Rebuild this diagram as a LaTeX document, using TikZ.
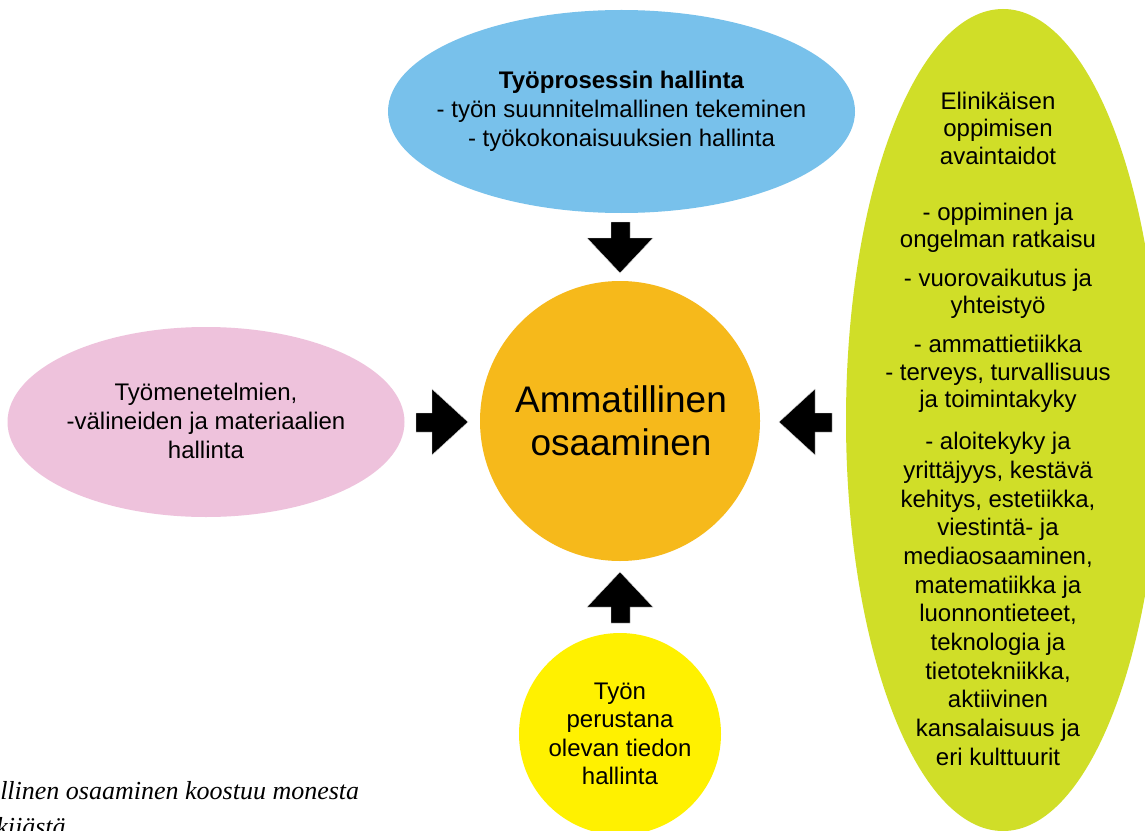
\documentclass[tikz,border=0pt]{standalone}
\usepackage{fontspec}
\newfontfamily\arial{Liberation Sans}
\newfontfamily\capfont{Liberation Serif}
\usetikzlibrary{shapes.geometric}
\definecolor{cblue}{HTML}{78C1EB}
\definecolor{cpink}{HTML}{EEC2DC}
\definecolor{corange}{HTML}{F6B91B}
\definecolor{cyellow}{HTML}{FFF100}
\definecolor{cgreen}{HTML}{D0DE28}
\tikzset{
  blob/.style={shape=ellipse, inner sep=0pt, outer sep=0pt},
  label text/.style={align=center, inner sep=0pt, text=black},
  bodytext/.style={label text, font=\arial\fontsize{18}{21.75}\selectfont},
  greentext/.style={label text, font=\arial\fontsize{18}{20.6}\selectfont},
  blockarrow/.style={fill=black, draw=black!15, line width=0.3pt},
  captext/.style={anchor=base west, inner sep=0pt, font=\capfont\itshape\fontsize{19.5}{28}\selectfont},
}
\begin{document}
\begin{tikzpicture}[x=0.75pt, y=-0.75pt]
\useasboundingbox (0,0) rectangle (1145,831);
\clip (0,0) rectangle (1145,831);
\fill[white] (0,0) rectangle (1145,831);

% shapes
\node[blob, fill=cblue, minimum width=467*0.75pt, minimum height=203*0.75pt] (proc) at (621.5,111.5) {};
\node[blob, fill=cpink, minimum width=397*0.75pt, minimum height=190*0.75pt] (meth) at (206,422) {};
\node[blob, fill=corange, minimum width=280*0.75pt, minimum height=280*0.75pt] (core) at (620,421) {};
\node[blob, fill=cyellow, minimum width=202*0.75pt, minimum height=202*0.75pt] (know) at (620,734) {};
\node[blob, fill=cgreen, minimum width=314*0.75pt, minimum height=822*0.75pt] (life) at (1003,420) {};

% texts
\node[bodytext] (proctext) at ([yshift=0.5*0.75pt]proc.center)
  {\textbf{Työprosessin hallinta}\\- työn suunnitelmallinen tekeminen\\- työkokonaisuuksien hallinta};
\node[bodytext] (methtext) at (206,421)
  {Työmenetelmien,\\-välineiden ja materiaalien\\hallinta};
\node[label text, font=\arial\fontsize{27.75}{32.25}\selectfont] (coretext) at (621,421)
  {Ammatillinen\\osaaminen};
\node[label text, font=\arial\fontsize{18}{21.4}\selectfont] (knowtext) at (620,734)
  {Työn\\perustana\\olevan tiedon\\hallinta};

% green ellipse text
\node[greentext] (g1) at (998,128) {Elinikäisen\\oppimisen\\avaintaidot};
\node[greentext] (g2) at (998,228) {- oppiminen ja\\ongelman ratkaisu};
\node[greentext] (g3) at (998,294) {- vuorovaikutus ja\\yhteistyö};
\node[greentext] (g4) at (998,374) {- ammattietiikka\\- terveys, turvallisuus\\ja toimintakyky};
\node[greentext, font=\arial\fontsize{18}{21.5}\selectfont] (g5) at (998,599)
  {- aloitekyky ja\\yrittäjyys, kestävä\\kehitys, estetiikka,\\viestintä- ja\\mediaosaaminen,\\matematiikka ja\\luonnontieteet,\\teknologia ja\\tietotekniikka,\\aktiivinen\\kansalaisuus ja\\eri kulttuurit};

% block arrows
\draw[blockarrow] (611,222) -- (630,222) -- (630,238) -- (653,238) -- (620,273) -- (587,238) -- (611,238) -- cycle;
\draw[blockarrow] (611,623) -- (630,623) -- (630,607) -- (653,607) -- (620,572) -- (587,607) -- (611,607) -- cycle;
\draw[blockarrow] (416,413) -- (432,413) -- (432,389) -- (468,422) -- (432,455) -- (432,432) -- (416,432) -- cycle;
\draw[blockarrow] (832,413) -- (815,413) -- (815,389) -- (779,422) -- (815,455) -- (815,432) -- (832,432) -- cycle;

% caption (cut off at the page edge, as in the reference)
\node[captext] (cap1) at (0,799) {llinen osaaminen koostuu monesta};
\node[captext] (cap2) at (-4,835) {kijästä};
\end{tikzpicture}
\end{document}
